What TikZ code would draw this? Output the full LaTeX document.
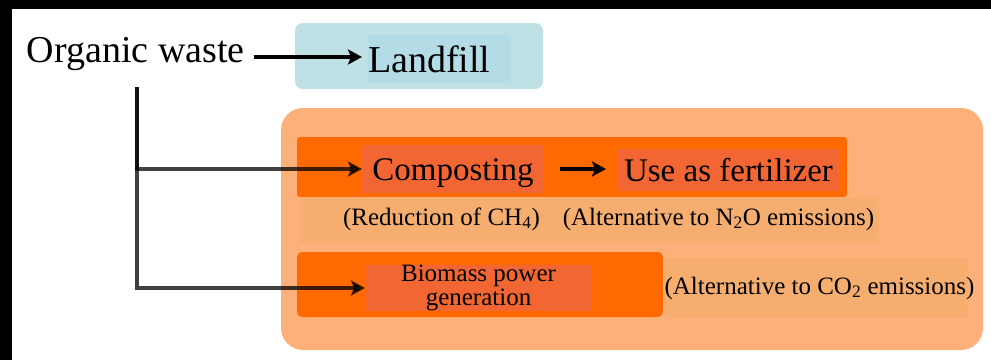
\documentclass[tikz,border=0pt]{standalone}
\usepackage{fontspec}
\setmainfont{Liberation Serif}
\usepackage{xcolor}
\usetikzlibrary{arrows.meta, positioning, backgrounds, fit}
\definecolor{landblue}{RGB}{191,225,230}
\definecolor{landinner}{RGB}{180,220,230}
\definecolor{peach}{RGB}{253,176,122}
\definecolor{deeporange}{RGB}{255,106,0}
\definecolor{redorange}{RGB}{242,102,51}
\definecolor{notetan}{RGB}{245,174,112}

\begin{document}
\begin{tikzpicture}[x=1pt, y=-1pt, every node/.style={inner sep=0pt, outer sep=0pt},
    flow/.style={-{Stealth[length=14pt, width=15pt, inset=3pt]}, line width=3.5pt},
    branch/.style={flow, draw opacity=0.75, fill opacity=0.75},
    bigtxt/.style={font=\fontsize{38}{40}\selectfont},
    midtxt/.style={font=\fontsize{33}{36}\selectfont, text height=27pt, text depth=5pt},
    smalltxt/.style={font=\fontsize{25}{24}\selectfont},
    inbox/.style={fill=redorange, midtxt}]
             \useasboundingbox (0,0) rectangle (991,360);
             \fill[white] (0,0) rectangle (991,360);
             \fill[black] (0,0) rectangle (991,9);
             \fill[black] (0,0) rectangle (12,360);
             \fill[landblue, rounded corners=8pt] (295,23) rectangle (543,89);
             \fill[peach, rounded corners=22pt] (281,108) rectangle (983,350);
             \fill[deeporange, rounded corners=3pt] (297,137) rectangle (847,197);
             \fill[notetan] (300,197) rectangle (879,243);
             \fill[deeporange, rounded corners=5pt] (297,252) rectangle (663,317);
             \fill[notetan] (663,258) rectangle (968,317);
             \node[bigtxt, anchor=base west] (organic) at (27,62) {Organic waste};
             \node[bigtxt, fill=landinner, text width=143pt, minimum height=48pt, align=left] (landfill) at (439.5,59) {Landfill};
             \node[inbox, minimum width=182pt, minimum height=48pt] (composting) at (453,169) {Composting};
             \node[inbox, minimum width=221pt, minimum height=42pt] (fertilizer) at (728.5,170) {Use as fertilizer};
             \node[fill=redorange, smalltxt, minimum width=227pt, minimum height=46pt, align=center] (biomass) at (478.5,288) {Biomass power\\generation};
             \node[smalltxt] (methane) at (441.5,219) {(Reduction of CH\textsubscript{4})};
             \node[smalltxt] (nitrous) at (718.5,219) {(Alternative to N\textsubscript{2}O emissions)};
             \node[smalltxt] (carbon) at (819.5,288) {(Alternative to CO\textsubscript{2} emissions)};
             \coordinate (fork) at (137,87);
             \draw[flow, shorten <=9pt, shorten >=6pt] (organic.east |- 0,57) -- (landfill.west |- 0,57);
             \draw[branch] (fork) |- (composting.west);
             \draw[branch] (fork) |- (biomass.west);
             \draw[flow, shorten <=16pt, shorten >=12pt] (composting.east) -- (fertilizer.west |- composting.east);
\end{tikzpicture}
\end{document}
